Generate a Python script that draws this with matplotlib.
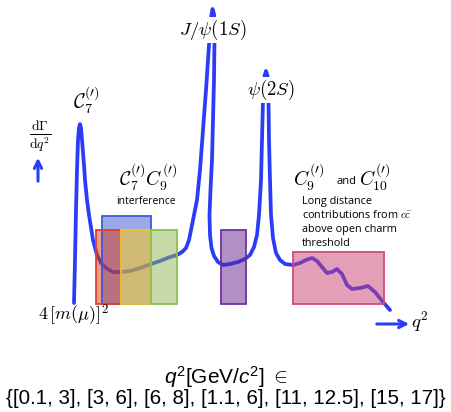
import numpy as np
import matplotlib
matplotlib.use("Agg")
from matplotlib import pyplot as plt
from matplotlib.patches import Rectangle

plt.rcParams['mathtext.fontset'] = 'cm'
plt.rcParams['mathtext.rm'] = 'Liberation Sans'
plt.rcParams['mathtext.it'] = 'Liberation Sans:italic'
plt.rcParams['mathtext.bf'] = 'Liberation Sans:bold'

# schematic spectrum, in drawing units (x right, y down from top)
curve_x = [74, 75, 76, 77, 78, 79, 80, 81, 82, 84, 85, 87, 89, 93, 97, 101, 106, 113,
           120, 130, 140, 151, 160, 170, 177, 182, 186, 189, 192, 195, 197, 200, 203,
           206, 209, 211, 212.5, 214, 214.5, 214, 213, 212, 210.5, 209.5, 210, 211.5,
           214, 218, 223, 230, 238, 245, 250, 254, 257, 259, 261, 262, 263, 264.5, 266,
           267.5, 268.5, 269, 270, 271, 273, 276, 280, 285, 293, 300, 306, 312, 317,
           322, 327, 332, 337, 342, 347, 352, 360, 368, 375, 383, 390]
curve_y = [303, 260, 210, 170, 140, 128, 124, 128, 140, 165, 180, 200, 215, 240, 255,
           263, 268, 272, 272, 271, 268, 264, 261, 257, 255, 252, 248, 240, 225, 210,
           200, 170, 130, 90, 45, 18, 9, 14, 40, 80, 120, 160, 190, 215, 235, 248,
           256, 262, 265, 264, 262, 259, 255, 247, 235, 215, 180, 140, 100, 76, 71,
           76, 100, 140, 180, 215, 238, 253, 260, 264, 265, 263, 260, 258, 261,
           267, 273, 272, 269, 274, 285, 289, 288, 286, 292, 302, 310]

# q^2 bins (GeV^2/c^4) shown as boxes
bin_lo = [1.1, 0.1, 3, 6, 11, 15]
bin_hi = [6, 3, 6, 8, 12.5, 17]
bin_top = [216, 230, 230, 230, 230, 252]
bin_face = ['#3d55d1', '#d83a18', '#fac814', '#91b955', '#652391', '#c94173']
bin_edge = ['#3a5ad8', '#e0402a', '#f2c230', '#8cc04a', '#7030a0', '#d04a80']
bin_alpha = [0.5, 0.5, 0.55, 0.5, 0.5, 0.5]

# schematic (non-linear) q^2 axis
axis_q2 = [0.1, 1.1, 3, 6, 8, 11, 12.5, 15, 17]
axis_pos = [96, 102, 121.5, 151, 177, 221, 246, 293, 384]
base_y = 304

fig = plt.figure(figsize=(4.52, 4.12), dpi=100)
ax = fig.add_axes([0, 0, 1, 1])
ax.set_xlim(0, 452)
ax.set_ylim(412, 0)
ax.axis('off')

ax.plot(curve_x, curve_y, color='#2a3cf8', lw=2.7, solid_capstyle='round',
        solid_joinstyle='round', zorder=1)

for lo, hi, top, fc, ec, a in zip(bin_lo, bin_hi, bin_top, bin_face, bin_edge, bin_alpha):
    x0 = np.interp(lo, axis_q2, axis_pos)
    x1 = np.interp(hi, axis_q2, axis_pos)
    ax.add_patch(Rectangle((x0, top), x1 - x0, base_y - top, facecolor=fc, alpha=a,
                           edgecolor='none', zorder=2))
    ax.add_patch(Rectangle((x0, top), x1 - x0, base_y - top, facecolor='none',
                           edgecolor=ec, lw=1.3, zorder=3))

# arrows
ax.annotate('', xy=(38, 155), xytext=(38, 184),
            arrowprops=dict(arrowstyle='->', color='#2a3cf8', lw=2.2, mutation_scale=13))
ax.annotate('', xy=(412, 324), xytext=(374, 324),
            arrowprops=dict(arrowstyle='->', color='#2a3cf8', lw=2.2, mutation_scale=13))

# labels
white = dict(facecolor='white', edgecolor='none', pad=0.5)
ax.text(213, 30, r'$J/\psi(1S)$', fontsize=13.5, ha='center', va='center', bbox=white, zorder=5)
ax.text(271, 90, r'$\psi(2S)$', fontsize=13.5, ha='center', va='center', bbox=white, zorder=5)
ax.text(86, 100, r'$\mathcal{C}_7^{(\prime)}$', fontsize=14.5, ha='center', va='center')
ax.text(148, 177, r'$\mathcal{C}_7^{(\prime)}C_9^{(\prime)}$', fontsize=14, ha='center', va='center')
ax.text(146, 201, 'interference', fontsize=7.5, family='Open Sans', ha='center', va='center')
ax.text(40, 137, r'$\frac{\mathrm{d}\Gamma}{\mathrm{d}q^2}$', fontsize=14, ha='center', va='center')
ax.text(73, 315, r'$4\,[m(\mu)]^2$', fontsize=13, ha='center', va='center')
ax.text(411, 322, r'$q^2$', fontsize=13.5, ha='left', va='center')
ax.text(309, 177, r'$C_9^{(\prime)}$', fontsize=14, ha='center', va='center')
ax.text(347, 181, 'and', fontsize=8, family='Open Sans', ha='center', va='center')
ax.text(375, 177, r'$C_{10}^{(\prime)}$', fontsize=14, ha='center', va='center')
ld_lines = ['Long distance', r'contributions from $c\bar{c}$', 'above open charm', 'threshold']
for i, line in enumerate(ld_lines):
    ax.text(302, 201 + 14 * i, line, fontsize=7.8, family='Open Sans', ha='left', va='center')

ax.text(226, 377, r'$q^2$[GeV/$c^2$] $\in$', fontsize=15, family='Liberation Sans',
        math_fontfamily='custom', ha='center', va='center')
ax.text(226, 398, '{[0.1, 3], [3, 6], [6, 8], [1.1, 6], [11, 12.5], [15, 17]}', fontsize=14.8,
        family='Liberation Sans', ha='center', va='center')

fig.savefig('out.png', dpi=100)
